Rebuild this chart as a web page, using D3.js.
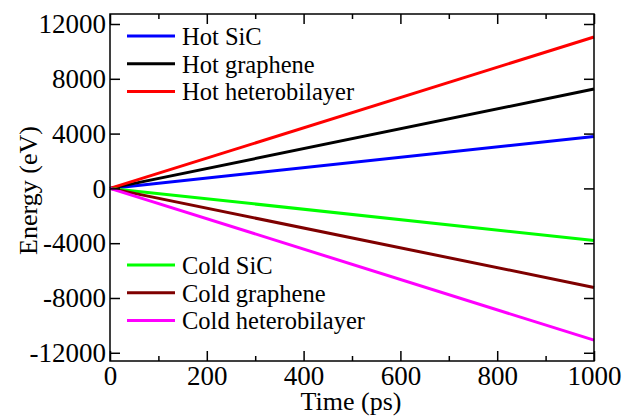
<!DOCTYPE html>
<html>
<head>
<meta charset="utf-8">
<script src="https://cdn.jsdelivr.net/npm/d3@7"></script>
<style>
  body { margin: 0; background: #fff; }
  text { font-family: "Liberation Serif", "Times New Roman", serif; fill: #000; }
</style>
</head>
<body>
<svg width="622" height="418"></svg>
<script>
// datos: energia acumulada (eV) contra tiempo (ps)
const tiempos = [0, 1000];
const hotSiC = [0, 3780];
const hotGraphene = [0, 7250];
const hotHetero = [0, 11050];
const coldSiC = [0, -3800];
const coldGraphene = [0, -7230];
const coldHetero = [0, -11080];

const series = [
  { nombre: "Hot SiC", valores: hotSiC, color: "#0000ff", grupo: 0 },
  { nombre: "Hot graphene", valores: hotGraphene, color: "#000000", grupo: 0 },
  { nombre: "Hot heterobilayer", valores: hotHetero, color: "#ff0000", grupo: 0 },
  { nombre: "Cold SiC", valores: coldSiC, color: "#00ff00", grupo: 1 },
  { nombre: "Cold graphene", valores: coldGraphene, color: "#7f0000", grupo: 1 },
  { nombre: "Cold heterobilayer", valores: coldHetero, color: "#ff00ff", grupo: 1 }
];

const xTicks = [0, 200, 400, 600, 800, 1000];
const xMinor = [100, 300, 500, 700, 900];
const yTicks = [-12000, -8000, -4000, 0, 4000, 8000, 12000];

const svg = d3.select("svg");
const margenIzq = 110, margenDer = 594, margenSup = 14, margenInf = 361;

const x = d3.scaleLinear().domain([0, 1000]).range([margenIzq, margenDer]);
const y = d3.scaleLinear().domain([-12600, 12730]).range([margenInf, margenSup]);

// lineas de datos
const linea = d3.line().x((d, i) => x(tiempos[i])).y(d => y(d));
series.forEach(s => {
  svg.append("path")
      .datum(s.valores)
      .attr("d", linea)
      .attr("fill", "none")
      .attr("stroke", s.color)
      .attr("stroke-width", 3);
});

// marco del grafico
svg.append("rect")
    .attr("x", margenIzq).attr("y", margenSup)
    .attr("width", margenDer - margenIzq).attr("height", margenInf - margenSup)
    .attr("fill", "none").attr("stroke", "#000").attr("stroke-width", 1.5);

// formato con guion normal, como en la figura original
const fmt = d => String(d);

// ticks hacia adentro en los cuatro lados
const ejeAbajo = d3.axisBottom(x).tickValues(xTicks).tickSize(-10).tickPadding(5).tickFormat(fmt);
const ejeArriba = d3.axisTop(x).tickValues(xTicks).tickSize(-10).tickFormat("");
const ejeIzq = d3.axisLeft(y).tickValues(yTicks).tickSize(-10).tickPadding(4).tickFormat(fmt);
const ejeDer = d3.axisRight(y).tickValues(yTicks).tickSize(-10).tickFormat("");
const menorAbajo = d3.axisBottom(x).tickValues(xMinor).tickSize(-5).tickFormat("");
const menorArriba = d3.axisTop(x).tickValues(xMinor).tickSize(-5).tickFormat("");

function estilo(g) {
  g.attr("font-family", null).attr("font-size", null);
  g.select(".domain").remove();
  g.selectAll(".tick line").attr("stroke", "#000").attr("stroke-width", 1.5);
  g.selectAll(".tick text").style("font-size", "27px").attr("fill", "#000");
}

svg.append("g").attr("transform", `translate(0,${margenInf})`).call(ejeAbajo).call(estilo);
svg.append("g").attr("transform", `translate(0,${margenSup})`).call(ejeArriba).call(estilo);
svg.append("g").attr("transform", `translate(0,${margenInf})`).call(menorAbajo).call(estilo);
svg.append("g").attr("transform", `translate(0,${margenSup})`).call(menorArriba).call(estilo);
svg.append("g").attr("transform", `translate(${margenIzq},0)`).call(ejeIzq).call(estilo);
svg.append("g").attr("transform", `translate(${margenDer},0)`).call(ejeDer).call(estilo);

// titulos de ejes
svg.append("text")
    .attr("x", 351).attr("y", 410)
    .attr("text-anchor", "middle")
    .style("font-size", "26px")
    .text("Time (ps)");

svg.append("text")
    .attr("transform", "translate(37,190.5) rotate(-90)")
    .attr("text-anchor", "middle")
    .style("font-size", "26px")
    .text("Energy (eV)");

// leyendas
const leyendaY = [36, 265];
series.forEach(s => {
  const idx = series.filter(o => o.grupo === s.grupo).indexOf(s);
  const yy = leyendaY[s.grupo] + idx * 27.7;
  svg.append("line")
      .attr("x1", 127).attr("x2", 175)
      .attr("y1", yy).attr("y2", yy)
      .attr("stroke", s.color).attr("stroke-width", 3);
  svg.append("text")
      .attr("x", 182).attr("y", yy + 9)
      .style("font-size", "24.5px")
      .text(s.nombre);
});
</script>
</body>
</html>
